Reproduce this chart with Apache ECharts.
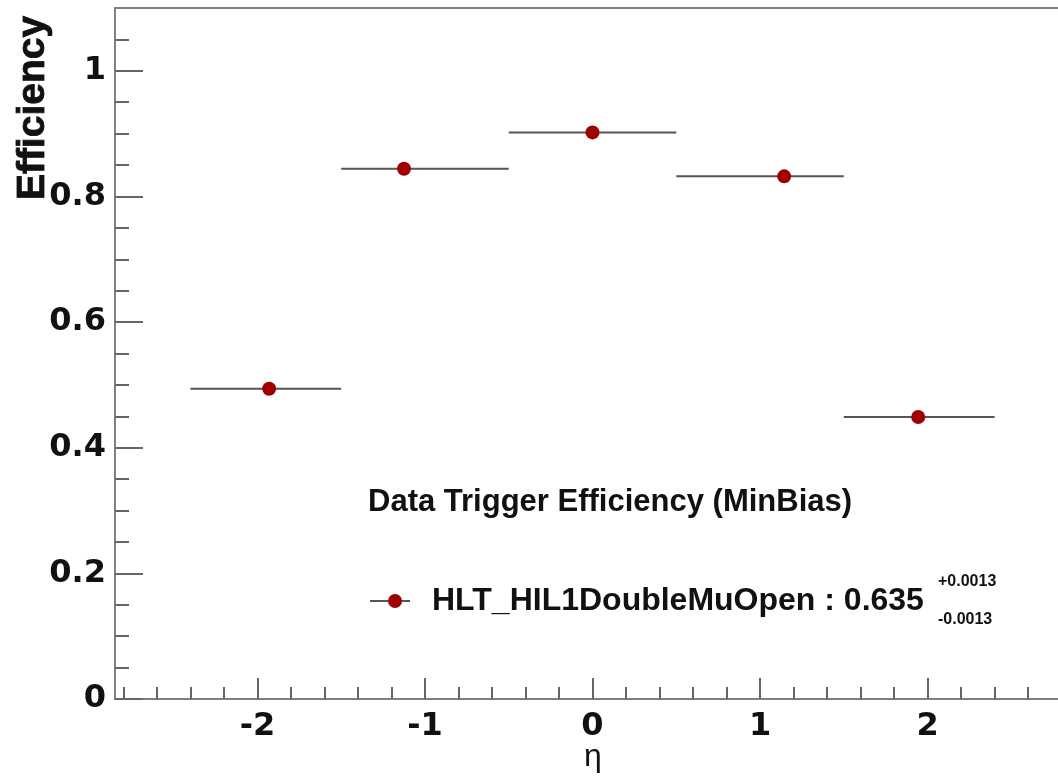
<!DOCTYPE html>
<html><head><meta charset="utf-8">
<script src="https://cdn.jsdelivr.net/npm/echarts@6/dist/echarts.min.js"></script>
<style>html,body{margin:0;padding:0;background:#fff}#c{width:1058px;height:778px}</style>
</head><body><div id="c"></div>
<script>
// ---- data ----
const binLow = [-2.4, -1.5, -0.5, 0.5, 1.5];
const binHigh = [-1.5, -0.5, 0.5, 1.5, 2.4];
const etaMean = [-1.93, -1.125, 0.0, 1.144, 1.944];
const efficiency = [0.494, 0.844, 0.902, 0.832, 0.449];
const xMajorTicks = [-2, -1, 0, 1, 2];
const xMinorTicks = [-2.8,-2.6,-2.4,-2.2,-1.8,-1.6,-1.4,-1.2,-0.8,-0.6,-0.4,-0.2,0.2,0.4,0.6,0.8,1.2,1.4,1.6,1.8,2.2,2.4,2.6,2.8];
const yMajorTicks = [0, 0.2, 0.4, 0.6, 0.8, 1];
const yMinorTicks = [0.05,0.1,0.15,0.25,0.3,0.35,0.45,0.5,0.55,0.65,0.7,0.75,0.85,0.9,0.95,1.05];
const yTitle = 'Efficiency';
const xTitle = 'η';
const legendTitle = 'Data Trigger Efficiency (MinBias)';
const seriesName = 'HLT_HIL1DoubleMuOpen';
const meanEff = '0.635';
const errUp = '+0.0013';
const errDown = '-0.0013';

const chart = echarts.init(document.getElementById('c'), null, {renderer: 'canvas'});
const axisCol = '#808080';
const tickFont = {fontFamily: 'DejaVu Sans', fontWeight: 'bold', fontSize: 32, color: '#111'};
const fmt = v => (Math.abs(v) < 1e-9 ? '0' : String(+v.toFixed(2)));
const txt = (text, x, y, size, bold, extra) => ({
  type: 'text', x, y, ...(extra || {}),
  style: {text, fontFamily: 'Liberation Sans', fontWeight: bold ? 'bold' : 'normal', fontSize: size,
          fill: '#111', textAlign: (extra && extra.align) || 'left', textVerticalAlign: 'middle',
          stroke: bold && extra && extra.heavy ? '#111' : null, lineWidth: bold && extra && extra.heavy ? 0.8 : 0}
});

const option = {
  animation: false,
  backgroundColor: '#fff',
  grid: {left: 115, top: 8, right: -12, bottom: 79, show: true, borderColor: axisCol, borderWidth: 2,
         containLabel: false, outerBoundsMode: 'none'},
  xAxis: [
    {type: 'value', min: -2.85, max: 2.85, position: 'bottom',
     axisLine: {show: true, onZero: false, lineStyle: {color: axisCol, width: 2}},
     axisTick: {show: true, inside: true, length: 21, customValues: xMajorTicks, lineStyle: {color: '#666', width: 2}},
     axisLabel: {show: true, customValues: xMajorTicks, margin: 12, formatter: fmt, ...tickFont},
     splitLine: {show: false}},
    {type: 'value', min: -2.85, max: 2.85, position: 'bottom', offset: 0,
     axisLine: {show: false, onZero: false},
     axisTick: {show: true, inside: true, length: 12, customValues: xMinorTicks, lineStyle: {color: '#666', width: 2}},
     axisLabel: {show: false}, splitLine: {show: false}}
  ],
  yAxis: [
    {type: 'value', min: 0, max: 1.1, position: 'left',
     axisLine: {show: true, onZero: false, lineStyle: {color: axisCol, width: 2}},
     axisTick: {show: true, inside: true, length: 28, customValues: yMajorTicks, lineStyle: {color: '#666', width: 2}},
     axisLabel: {show: true, customValues: yMajorTicks, margin: 9, formatter: fmt, ...tickFont},
     splitLine: {show: false}},
    {type: 'value', min: 0, max: 1.1, position: 'left', offset: 0,
     axisLine: {show: false, onZero: false},
     axisTick: {show: true, inside: true, length: 14, customValues: yMinorTicks, lineStyle: {color: '#666', width: 2}},
     axisLabel: {show: false}, splitLine: {show: false}}
  ],
  series: [
    {type: 'custom', name: seriesName, xAxisIndex: 0, yAxisIndex: 0, silent: true, z: 2,
     data: binLow.map((l, i) => [l, binHigh[i], efficiency[i]]),
     encode: {x: [0, 1], y: 2},
     renderItem: (params, api) => {
       const p1 = api.coord([api.value(0), api.value(2)]);
       const p2 = api.coord([api.value(1), api.value(2)]);
       return {type: 'line', shape: {x1: p1[0], y1: p1[1], x2: p2[0], y2: p2[1]},
               style: {stroke: '#555', lineWidth: 2}};
     }},
    {type: 'scatter', name: seriesName, xAxisIndex: 0, yAxisIndex: 0, z: 3,
     symbol: 'circle', symbolSize: 14,
     itemStyle: {color: '#a00000', opacity: 1},
     data: etaMean.map((x, i) => [x, efficiency[i]])}
  ],
  graphic: [
    txt(yTitle, 33, 108, 39, true, {rotation: Math.PI / 2, align: 'center', heavy: true}),
    txt(xTitle, 593, 757, 32, false, {align: 'center'}),
    txt(legendTitle, 368, 502, 31, true),
    {type: 'line', shape: {x1: 370, y1: 601, x2: 410, y2: 601}, style: {stroke: '#555', lineWidth: 2}},
    {type: 'circle', shape: {cx: 395, cy: 601, r: 7}, style: {fill: '#a00000'}},
    txt(seriesName + ' : ' + meanEff, 432, 601, 32, true),
    txt(errUp, 938, 582, 16, true),
    txt(errDown, 938, 620, 16, true)
  ]
};
chart.setOption(option);
</script>
</body></html>
